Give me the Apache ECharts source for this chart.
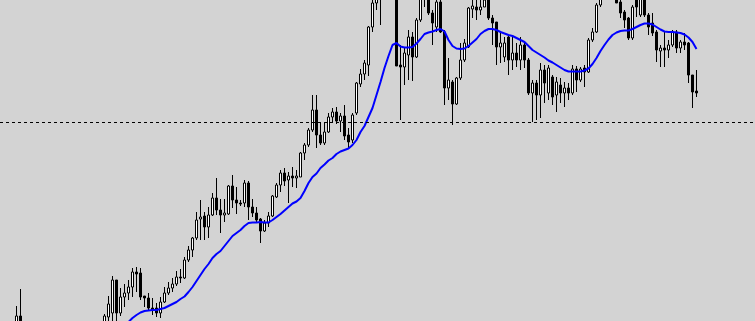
<!DOCTYPE html>
<html>
<head>
<meta charset="utf-8">
<script src="https://cdn.jsdelivr.net/npm/echarts@6/dist/echarts.min.js"></script>
<style>html,body{margin:0;padding:0;background:#d3d3d3}#c{width:755px;height:321px}</style>
</head>
<body>
<div id="c"></div>
<script>
// Price values (arbitrary units)
var opens = [-2,5,-9,-15,-20,-17,-24,-29,-26,-34,-31,-37,-33,-29,-31,-25,-21,-23,-17,-13,-15,-9,
-3,4,8,41,8,24,28,34,49,48,25,23,13,13,8,19,28,33,37,44,43,61,71,83,102,105,94,106,123,111,106,107,135,121,118,118,138,114,108,102,90,98,105,124,136,148,141,145,143,144,168,176,191,211,186,178,189,204,209,200,205,186,181,208,237,247,256,294,318,329,339,351,343,333,256,254,266,284,264,301,326,326,308,294,319,289,233,239,217,243,261,274,312,314,311,314,321,303,299,274,264,284,261,268,261,276,261,228,238,226,251,228,244,226,236,228,233,228,252,241,253,249,281,289,316,323,333,329,326,319,309,303,283,323,306,324,306,298,289,270,273,271,276,289,273,279,278,246,230];
var closes = [5,-9,-15,-20,-17,-24,-29,-26,-34,-31,-37,-33,-29,-31,-25,-21,-23,-17,-13,-15,-9,-5,
5,17,41,8,24,28,34,49,47,24,23,13,11,8,19,28,33,37,44,43,61,71,83,101,104,94,106,123,111,106,108,135,121,118,117,138,114,108,101,90,98,105,125,136,148,140,145,143,145,168,176,191,211,186,178,189,204,209,200,205,185,179,206,238,247,258,294,318,329,339,351,343,333,255,254,268,284,264,301,326,336,308,298,319,289,233,241,217,243,261,278,313,315,311,314,321,303,298,274,278,278,261,268,261,276,261,228,238,226,251,238,253,224,239,228,233,228,252,241,252,249,281,289,316,323,333,329,325,318,308,301,283,314,314,324,306,294,288,271,273,271,276,289,273,279,276,246,229,228];
var lows = [-4,-14,-17,-23,-24,-27,-33,-32,-37,-37,-40,-39,-35,-34,-33,-27,-26,-25,-19,-18,-17,-11,
-5,-2,-2,-3,5,14,21,24,29,21,14,10,6,4,3,18,26,29,35,38,42,59,64,81,81,81,83,105,106,88,99,106,113,107,115,114,101,104,98,78,89,94,104,123,129,135,118,134,133,144,161,174,189,173,176,176,188,198,197,189,181,173,178,206,234,241,245,289,311,296,329,333,325,255,201,236,241,240,263,299,314,306,276,289,288,216,221,196,216,241,259,273,303,301,306,314,301,276,256,258,259,246,251,254,251,253,226,199,201,203,218,221,216,209,218,214,221,226,229,239,234,248,279,288,314,322,323,322,318,303,293,281,281,304,304,304,286,285,259,254,254,263,274,268,268,271,238,213,224];
var highs = [15,32,-7,-12,-15,-15,-22,-24,-24,-28,-29,-30,-26,-25,-22,-18,-17,-14,-10,-9,-6,-2,
7,25,45,41,33,37,41,53,54,53,25,28,23,18,24,34,39,43,50,52,64,75,84,109,121,109,114,128,143,122,122,136,146,134,121,141,140,122,114,103,101,109,126,138,151,153,149,154,151,169,178,193,226,226,199,198,208,213,214,208,216,193,208,239,252,261,295,326,336,346,361,366,356,341,276,273,291,289,303,331,346,331,311,324,326,291,263,241,244,278,282,314,324,323,321,324,324,306,299,288,284,286,284,278,284,279,263,241,241,258,256,256,246,244,243,239,238,256,255,254,256,283,293,318,329,341,343,336,331,323,311,304,316,326,329,329,308,308,291,276,289,281,291,291,281,288,279,246,251];
var maValues = [-19,-20,-21,-22,-23,-24,-25,-26,-26,-27,-27,-27,-26,-25,-24,-23,-21,-19,-17,-15,-13,-11,
-9,-7,-5,-4,-3,-2,-1,3,6,8.5,10,10.5,11,11,12,13,15,17,19,22,24.5,29,34,40,46,52,57,63,67,70,75,80,85,88,91,95,98,98.5,98.5,99,98.5,98.5,101,104,107,110.5,114,117.5,119.5,123,130,138,144,147.5,153,156.5,160.5,163,167,169.5,171,172.5,176,181,189,195,204,213,226,239,253,265,276,278,274.5,273.5,273.5,274,277.5,282,287,288.5,289.5,291,292,289.5,281,275,272.5,272,272.5,275,278.5,282,287,290,292,292,291,289,287.5,286,285,283,281,279,275,271,268.5,266,263.5,260.5,258.5,256,253.5,251,249.5,249.5,249.5,249.5,250.5,252.5,257,263,270,276,281.5,286,288.5,290,290.5,290.5,292,294,296,297.5,297.5,296.5,294,291.5,289.5,289,289,288.5,288,286.5,283.5,279,272];
var levelValue = 198.5;
// bar-number window shown (older bars are scrolled off the left edge, right side is the chart shift)
var barMin = -4.125, barMax = 184.625;

var candleData = opens.map(function (o, i) { return [i, o, closes[i], lows[i], highs[i]]; });
var maData = maValues.map(function (v, i) { return [i, v]; });

var chart = echarts.init(document.getElementById('c'), null, {renderer: 'canvas'});
chart.setOption({
  backgroundColor: '#d3d3d3',
  animation: false,
  grid: {left: 0, right: 0, top: 0, bottom: 0},
  xAxis: {type: 'value', min: barMin, max: barMax, show: false, splitLine: {show: false}},
  yAxis: {type: 'value', min: 0, max: 321, show: false, splitLine: {show: false}},
  series: [
    {
      type: 'candlestick',
      data: candleData,
      encode: {x: 0, y: [1, 2, 3, 4]},
      barWidth: 2,
      clip: true,
      itemStyle: {
        color: '#ffffff', color0: '#000000',
        borderColor: '#000000', borderColor0: '#000000', borderColorDoji: '#000000',
        borderWidth: 1
      },
      markLine: {
        silent: true, symbol: ['none', 'none'],
        label: {show: false},
        lineStyle: {color: '#000000', type: [3, 3], width: 1},
        data: [{yAxis: levelValue}]
      }
    },
    {
      type: 'line',
      data: maData,
      showSymbol: false,
      clip: true,
      lineStyle: {color: '#0000ff', width: 2},
      z: 3
    }
  ]
});
</script>
</body>
</html>
